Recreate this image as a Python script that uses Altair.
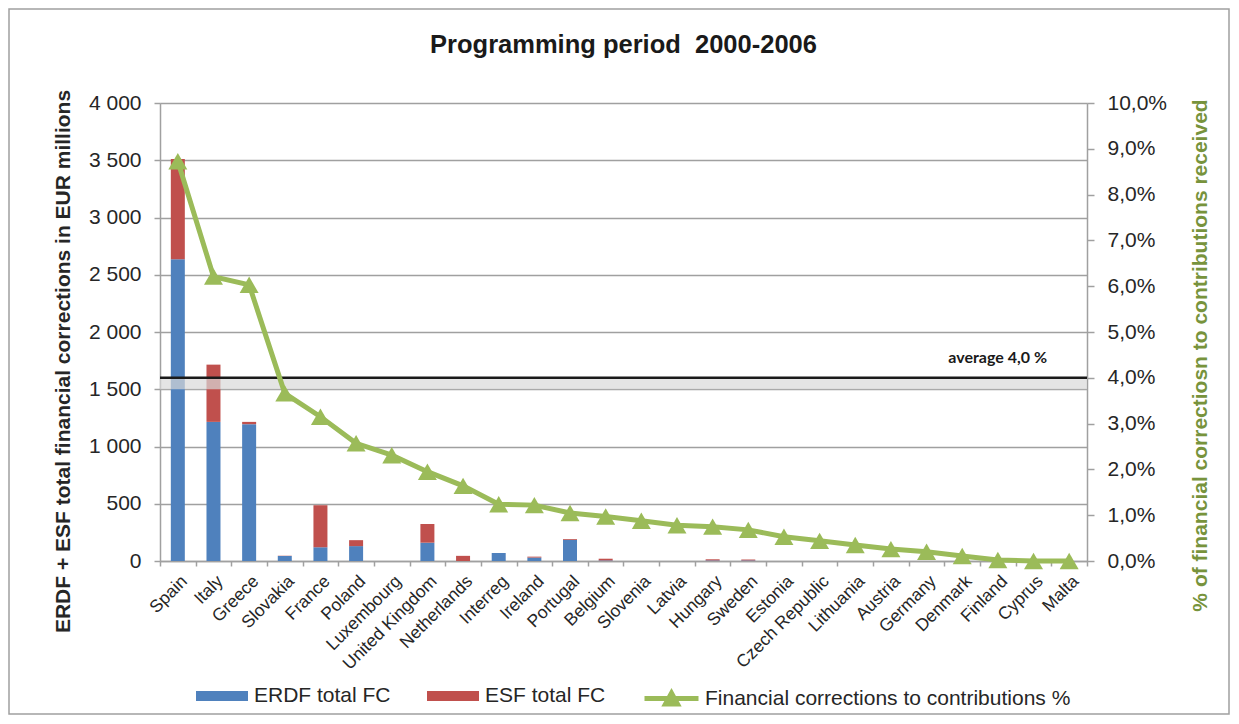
import altair as alt
import pandas as pd

# ---------------- data ----------------
countries = ["Spain", "Italy", "Greece", "Slovakia", "France", "Poland", "Luxembourg",
             "United Kingdom", "Netherlands", "Interreg", "Ireland", "Portugal", "Belgium",
             "Slovenia", "Latvia", "Hungary", "Sweden", "Estonia", "Czech Republic",
             "Lithuania", "Austria", "Germany", "Denmark", "Finland", "Cyprus", "Malta"]
erdf_fc = [2635, 1215, 1195, 43, 120, 130, 0, 160, 0, 70, 30, 185, 5,
           0, 0, 5, 5, 0, 0, 0, 0, 0, 0, 0, 0, 0]
esf_fc = [875, 500, 20, 3, 367, 52, 0, 163, 45, 0, 8, 7, 15,
          0, 0, 10, 8, 0, 0, 0, 0, 0, 0, 0, 0, 0]
pct = [8.73, 6.21, 6.03, 3.66, 3.15, 2.57, 2.31, 1.95, 1.64, 1.24, 1.22, 1.05, 0.97,
       0.88, 0.78, 0.75, 0.68, 0.53, 0.44, 0.35, 0.26, 0.20, 0.11, 0.02, 0.0, 0.0]
series_names = ["ERDF total FC", "ESF total FC"]
line_name = "Financial corrections to contributions %"
left_ticks = [0, 500, 1000, 1500, 2000, 2500, 3000, 3500, 4000]
right_ticks = [0, 1, 2, 3, 4, 5, 6, 7, 8, 9, 10]
avg_pct = 4.0
band_low = 3.75
avg_label = "average 4,0 %"

bar_rows = []
for i, c in enumerate(countries):
    bar_rows.append({"country": c, "series": series_names[0], "value": erdf_fc[i], "ord": 0})
    bar_rows.append({"country": c, "series": series_names[1], "value": esf_fc[i], "ord": 1})
bars_df = pd.DataFrame(bar_rows)
line_df = pd.DataFrame({"country": countries, "pct": pct, "series": line_name})
avg_df = pd.DataFrame({"lo": [band_low], "hi": [avg_pct], "label": [avg_label]})
frame_df = pd.DataFrame({"k": [0]})

# ---------------- style ----------------
FONT = "Liberation Sans"
GRAY = "#a0a0a0"
TXT = "#262626"
BLUE = "#4F81BD"
RED = "#C0504D"
GREEN = "#9BBB59"
W, H = 927, 458

x_enc = alt.X(
    "country:N", sort=countries,
    scale=alt.Scale(paddingInner=0, paddingOuter=0),
    axis=alt.Axis(title=None, labelAngle=-45, labelFontSize=17.5, labelFont=FONT,
                  labelColor=TXT, tickBand="extent", ticks=True, tickSize=5,
                  tickColor=GRAY, tickWidth=1.5, domainColor=GRAY, domainWidth=1.5,
                  labelPadding=6, grid=False),
)


def pct_scale():
    return alt.Scale(domain=[0, 10], nice=False, zero=True)


bars = alt.Chart(bars_df).mark_bar(size=14).encode(
    x=x_enc,
    y=alt.Y("value:Q", stack="zero",
            scale=alt.Scale(domain=[0, 4000], nice=False),
            axis=alt.Axis(title="ERDF + ESF total financial corrections in EUR millions",
                          values=left_ticks,
                          labelExpr="replace(format(datum.value, ','), ',', ' ')",
                          labelFont=FONT, labelFontSize=21, labelColor=TXT, labelPadding=13,
                          tickSize=6, tickColor=GRAY, tickWidth=1.5,
                          domainColor=GRAY, domainWidth=1.5,
                          grid=True, gridColor=GRAY, gridWidth=1.5,
                          titleFont=FONT, titleFontSize=21, titleFontWeight="bold",
                          titleColor=TXT, titleAngle=270, titleX=-97, titleY=258,
                          titleBaseline="middle", titleAlign="center")),
    color=alt.Color("series:N",
                    scale=alt.Scale(domain=series_names, range=[BLUE, RED]),
                    legend=alt.Legend(title=None, orient="none", legendX=36, legendY=567,
                                      direction="horizontal",
                                      symbolType="M-1,-0.19H1V0.19H-1Z", symbolSize=2704,
                                      symbolStrokeWidth=0,
                                      labelFont=FONT, labelFontSize=21, labelColor=TXT,
                                      labelOffset=6, columnPadding=36, labelLimit=0)),
    order=alt.Order("ord:Q"),
)

band = alt.Chart(avg_df).mark_rect(color="#d9d9d9", opacity=0.7).encode(
    x=alt.value(0), x2=alt.value(W),
    y=alt.Y("hi:Q", scale=pct_scale(), axis=None), y2="lo:Q",
)
rule = alt.Chart(avg_df).mark_rule(color="#1a1a1a", strokeWidth=2.5).encode(
    x=alt.value(0), x2=alt.value(W),
    y=alt.Y("hi:Q", scale=pct_scale(), axis=None),
)
avg_text = alt.Chart(avg_df).mark_text(font="Lato", fontWeight="bold", fontSize=16,
                                       align="right", baseline="alphabetic", dy=-15,
                                       color="#1a1a1a").encode(
    x=alt.value(W - 40),
    y=alt.Y("hi:Q", scale=pct_scale(), axis=None),
    text="label:N",
)

line = alt.Chart(line_df).mark_line(
    strokeWidth=5,
    point=alt.OverlayMarkDef(shape="triangle-up", size=360, filled=True, opacity=1),
).encode(
    x=x_enc,
    y=alt.Y("pct:Q", scale=pct_scale(),
            axis=alt.Axis(orient="right", title="% of financial correctiosn to contributions received",
                          values=right_ticks,
                          labelExpr="replace(format(datum.value, '.1f'), '.', ',') + '%'",
                          labelFont=FONT, labelFontSize=21, labelColor=TXT, labelPadding=13,
                          tickSize=7, tickColor=GRAY, tickWidth=1.5,
                          domainColor=GRAY, domainWidth=1.5, grid=False,
                          titleFont=FONT, titleFontSize=21, titleFontWeight="bold",
                          titleColor="#77933C", titleAngle=270, titleX=113, titleY=252,
                          titleBaseline="middle", titleAlign="center")),
    color=alt.Color("series:N",
                    scale=alt.Scale(domain=[line_name], range=[GREEN]),
                    legend=alt.Legend(title=None, orient="none", legendX=482, legendY=566,
                                      direction="horizontal",
                                      symbolType="M-1,0H1M-0.22,0.2L0,-0.2L0.22,0.2Z",
                                      symbolSize=2916, symbolStrokeWidth=5,
                                      symbolFillColor=GREEN, symbolStrokeColor=GREEN,
                                      labelFont=FONT, labelFontSize=21, labelColor=TXT,
                                      labelOffset=4, labelLimit=0)),
)

frame = alt.Chart(frame_df).mark_rect(fillOpacity=0, stroke=GRAY, strokeWidth=1.5).encode(
    x=alt.value(-151), x2=alt.value(1069), y=alt.value(-94), y2=alt.value(611),
)

chart = alt.layer(bars, band, rule, line, avg_text, frame).resolve_scale(
    y="independent", color="independent"
).properties(
    width=W, height=H,
    padding={"left": 152, "top": 95, "right": 144, "bottom": 155},
    autosize=alt.AutoSizeParams(type="none"),
    title=alt.Title("Programming period\u00a0 2000-2006", fontSize=25.5, font=FONT,
                    fontWeight="bold", color="#1a1a1a", anchor="middle", offset=-50),
).configure_view(stroke=None).configure(background="white")

chart.save("out.html", embed_options={"renderer": "svg", "actions": False})
